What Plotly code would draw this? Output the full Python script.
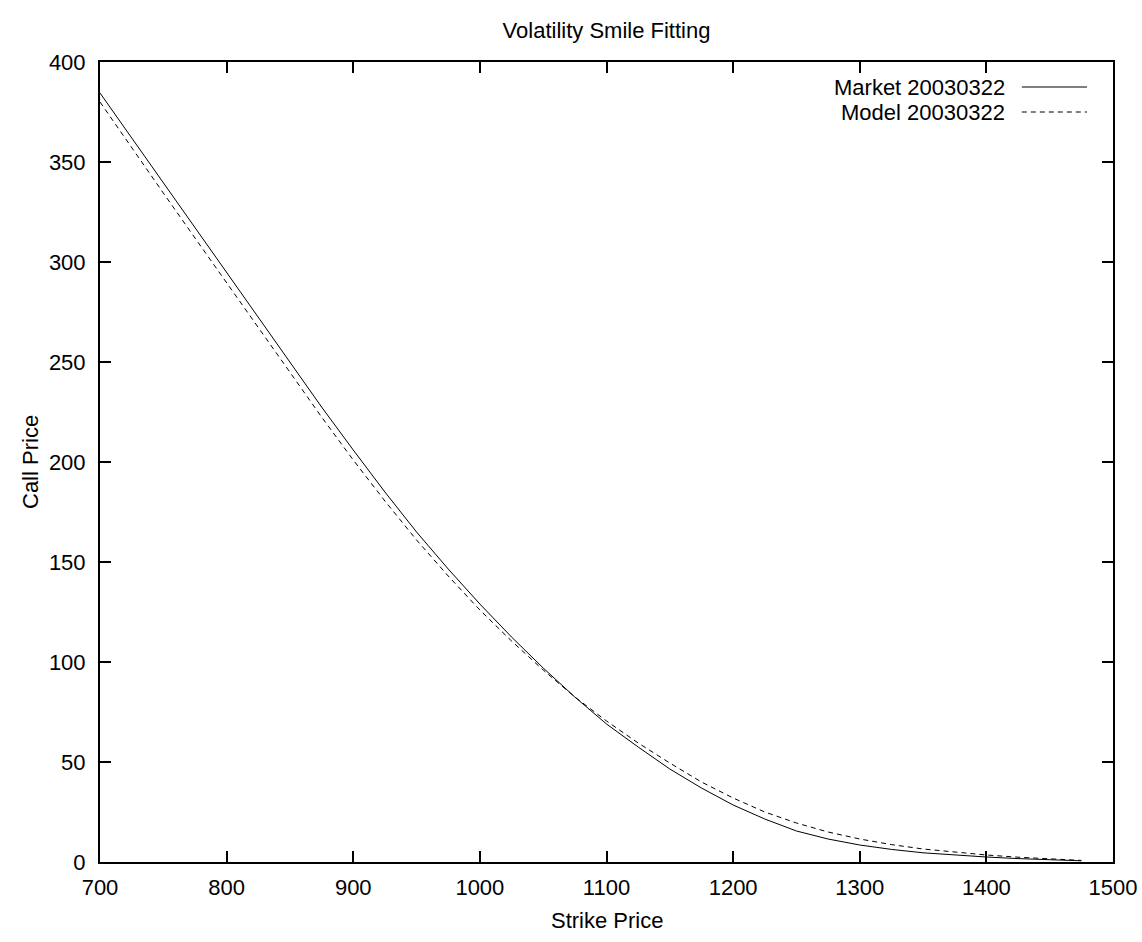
import plotly.graph_objects as go

strike = [700, 725, 750, 775, 800, 825, 850, 875, 900, 925, 950, 975, 1000, 1025, 1050,
          1075, 1100, 1125, 1150, 1175, 1200, 1225, 1250, 1275, 1300, 1325, 1350, 1375,
          1400, 1425, 1450, 1475]
market = [384.5, 362, 339.5, 317, 294.5, 272, 249.5, 227.5, 206, 185, 165, 146.5, 129,
          112.5, 97, 82.5, 69, 57.5, 46.5, 37, 28.5, 21.5, 15.5, 11.5, 8.5, 6.3, 4.6, 3.4,
          2.5, 1.7, 1.1, 0.6]
model = [380, 357, 334.5, 312, 289.5, 267, 244.5, 222.5, 201, 180.5, 161, 143, 126,
         110.5, 96, 82.5, 70.5, 59.5, 49.5, 40, 32, 25, 19.5, 15, 11.5, 8.7, 6.5, 4.9,
         3.5, 2.4, 1.5, 0.8]
series_names = ["Market 20030322", "Model 20030322"]
x_ticks = [700, 800, 900, 1000, 1100, 1200, 1300, 1400, 1500]
y_ticks = [0, 50, 100, 150, 200, 250, 300, 350, 400]

FONT = "Liberation Sans, Arial, sans-serif"
FS = 22
txt = dict(family=FONT, size=FS, color="black")

fig = go.Figure()
fig.add_trace(go.Scatter(x=strike, y=market, mode="lines", name=series_names[0],
                         line=dict(color="black", width=1), showlegend=False))
fig.add_trace(go.Scatter(x=strike, y=model, mode="lines", name=series_names[1],
                         line=dict(color="black", width=1, dash="5px,4px"), showlegend=False))

# manual gnuplot-style legend (text left of line sample)
leg_rows = [(series_names[0], None, 0.96875), (series_names[1], "5px,4px", 0.9375)]
for name, dash, yy in leg_rows:
    fig.add_annotation(xref="paper", yref="paper", x=0.8954, y=yy, text=name,
                       showarrow=False, xanchor="right", yanchor="middle", font=txt)
    fig.add_shape(type="line", xref="paper", yref="paper", x0=0.910, x1=0.9743,
                  y0=yy, y1=yy, line=dict(color="black", width=1, dash=dash))

# axis titles
fig.add_annotation(xref="paper", yref="paper", x=0.5, y=-0.0725, text="Strike Price",
                   showarrow=False, xanchor="center", yanchor="middle", font=txt)
fig.add_annotation(xref="paper", yref="paper", x=-0.0691, y=0.5, text="Call Price",
                   showarrow=False, xanchor="center", yanchor="middle", textangle=-90,
                   font=txt)

axis_common = dict(showline=True, linecolor="black", linewidth=2, mirror="allticks",
                   ticks="inside", ticklen=11, tickwidth=1.5, tickcolor="black",
                   showgrid=False, zeroline=False, ticklabeloverflow="allow",
                   automargin=False, tickfont=txt)

fig.update_layout(
    width=1142, height=942,
    paper_bgcolor="white", plot_bgcolor="white",
    margin=dict(l=100, r=29, t=62, b=80, autoexpand=False),
    title=dict(text="Volatility Smile Fitting", x=0.5, xref="paper", xanchor="center",
               y=0.968, yanchor="middle", font=txt),
    xaxis=dict(range=[700, 1500], tickvals=x_ticks, ticktext=[str(v) for v in x_ticks],
               ticklabelstandoff=5, **axis_common),
    yaxis=dict(range=[0, 400], tickvals=y_ticks, ticktext=[str(v) for v in y_ticks],
               ticklabelstandoff=8, **axis_common),
)

fig.write_html("out.html", config={"displayModeBar": False},
               post_script="document.body.style.margin='0';document.body.style.overflow='hidden';")
